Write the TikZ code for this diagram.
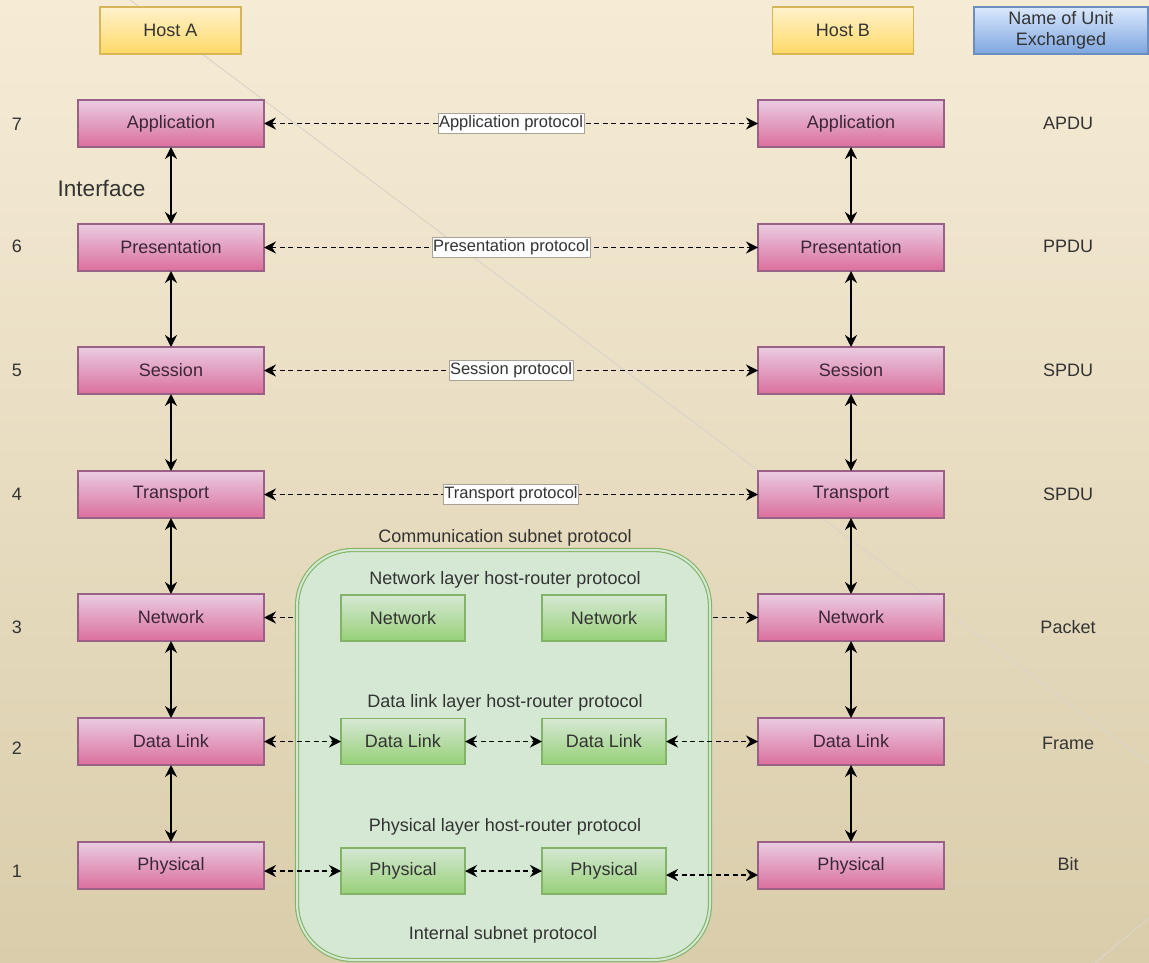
\documentclass[tikz,border=0pt]{standalone}
\usepackage{fontspec}
\setmainfont{Liberation Sans}
\usetikzlibrary{arrows.meta}

\definecolor{bgtop}{HTML}{F6ECD6}
\definecolor{bgmid}{HTML}{F0E6CD}
\definecolor{bgbot}{HTML}{D9CDAB}
\definecolor{bgline}{HTML}{DCD5CA}
\definecolor{pinktop}{HTML}{EACCE1}
\definecolor{pinkbot}{HTML}{DB6F9D}
\definecolor{pinkline}{HTML}{996185}
\definecolor{yeltop}{HTML}{FFF2CC}
\definecolor{yelbot}{HTML}{FFD966}
\definecolor{yelline}{HTML}{D6B656}
\definecolor{bluetop}{HTML}{DAE8FC}
\definecolor{bluebot}{HTML}{7EA6E0}
\definecolor{blueline}{HTML}{6C8EBF}
\definecolor{grntop}{HTML}{D5E8D4}
\definecolor{grnbot}{HTML}{97D077}
\definecolor{grnline}{HTML}{82B366}
\definecolor{subfill}{HTML}{D5E8D4}
\definecolor{txt}{HTML}{333333}
\definecolor{layertxt}{HTML}{3A2636}
\definecolor{lblline}{HTML}{A8A298}

\tikzset{
  basebox/.style={rectangle, inner sep=0pt, outer sep=0pt, line width=1.3pt,
    font=\fontsize{18}{21}\selectfont, text=txt},
  layerbox/.style={basebox, minimum width=186pt, minimum height=47pt,
    top color=pinktop, bottom color=pinkbot, draw=pinkline, text=layertxt},
  hostbox/.style={basebox, minimum width=141pt, minimum height=47pt,
    top color=yeltop, bottom color=yelbot, draw=yelline},
  unitbox/.style={basebox, minimum width=174pt, minimum height=47pt,
    top color=bluetop, bottom color=bluebot, draw=blueline, align=center},
  routerbox/.style={basebox, minimum width=124pt, minimum height=46pt,
    top color=grntop, bottom color=grnbot, draw=grnline},
  subnetbox/.style={rectangle, inner sep=0pt, outer sep=0pt, rounded corners=56pt,
    fill=subfill, draw=grnline, line width=1.1pt, double=subfill, double distance=2pt},
  plainlabel/.style={inner sep=0pt, text=txt, font=\fontsize{18}{21}\selectfont},
  plabel/.style={solid, fill=white, draw=lblline, line width=0.8pt, inner xsep=1pt,
    inner ysep=0pt, minimum height=20pt, text=txt, font=\fontsize{16.5}{18}\selectfont},
  headtip/.tip={Stealth[length=12pt, width=12pt, inset=4pt]},
  solidarr/.style={line width=1.8pt, black, headtip-headtip},
  dasharr/.style={line width=1.7pt, black, dash pattern=on 5pt off 3.5pt, headtip-headtip},
}

\begin{document}
\begin{tikzpicture}[x=1pt, y=-1pt]
  % slide background
  \useasboundingbox (0,0) rectangle (1149,963);
  \shade[top color=bgtop, middle color=bgmid, bottom color=bgbot] (0,0) rectangle (1149,963);
  \draw[bgline, line width=1.1pt] (130,0) -- (1149,763);
  \draw[bgline, line width=1.1pt] (1149,918) -- (1095,963);

  % column headers
  \node[hostbox] (hostA) at (170.5,30.5) {Host A};
  \node[hostbox] (hostB) at (843,30.5) {Host B};
  \node[unitbox] (unit) at (1061,30.5) {Name of Unit\\Exchanged};

  % layer stacks of both hosts
  \foreach \n/\name/\y in {7/Application/123.5, 6/Presentation/247.5, 5/Session/370.5,
                           4/Transport/494.5, 3/Network/617.5, 2/Data Link/741.5, 1/Physical/865.5} {
    \node[layerbox] (a\n) at (171,\y) {\name};
    \node[layerbox] (b\n) at (851,\y) {\name};
  }

  % layer numbers
  \foreach \n/\y in {7/124, 6/246, 5/370, 4/494, 3/627, 2/748, 1/871}
    \node[plainlabel] (num\n) at (17,\y) {\n};

  % protocol data unit names
  \node[plainlabel] (u7) at (1068,123) {APDU};
  \node[plainlabel] (u6) at (1068,246) {PPDU};
  \node[plainlabel] (u5) at (1068,370) {SPDU};
  \node[plainlabel] (u4) at (1068,494) {SPDU};
  \node[plainlabel] (u3) at (1068,627) {Packet};
  \node[plainlabel] (u2) at (1068,743) {Frame};
  \node[plainlabel] (u1) at (1068,864) {Bit};

  \node[plainlabel, font=\fontsize{22.5}{26}\selectfont] (iface) at (101.5,188) {Interface};

  % interfaces between adjacent layers
  \foreach \u/\l in {7/6, 6/5, 5/4, 4/3, 3/2, 2/1} {
    \draw[solidarr] (a\u) -- (a\l);
    \draw[solidarr] (b\u) -- (b\l);
  }

  % peer protocols of the upper layers
  \draw[dasharr] (a7) -- node[plabel] (l7) {Application protocol} (b7);
  \draw[dasharr] (a6) -- node[plabel] (l6) {Presentation protocol} (b6);
  \draw[dasharr] (a5) -- node[plabel] (l5) {Session protocol} (b5);
  \draw[dasharr] (a4) -- node[plabel] (l4) {Transport protocol} (b4);
  \draw[dasharr] (a3) -- (b3);

  % communication subnet
  \node[subnetbox, minimum width=413pt, minimum height=410pt] (subnet) at (503.5,755) {};
  \node[plainlabel] (commlbl) at (505,538) {Communication subnet protocol};
  \node[plainlabel] (netlbl) at (505,580) {Network layer host-router protocol};
  \node[plainlabel] (dllbl) at (505,703) {Data link layer host-router protocol};
  \node[plainlabel] (phylbl) at (505,827) {Physical layer host-router protocol};
  \node[plainlabel] (intlbl) at (503,935) {Internal subnet protocol};

  \node[routerbox] (rn1) at (403,618) {Network};
  \node[routerbox] (rn2) at (604,618) {Network};
  \node[routerbox] (rd1) at (403,741.5) {Data Link};
  \node[routerbox] (rd2) at (604,741.5) {Data Link};
  \node[routerbox] (rp1) at (403,871) {Physical};
  \node[routerbox] (rp2) at (604,871) {Physical};

  % hops through the subnet
  \draw[dasharr] (a2) -- (rd1);
  \draw[dasharr] (rd1) -- (rd2);
  \draw[dasharr] (rd2) -- (b2);
  \draw[dasharr] (rp1.west -| a1.east) -- (rp1.west);
  \draw[dasharr] (rp1) -- (rp2);
  \draw[dasharr] ([yshift=-4pt]rp2.east) -- ([yshift=-4pt]rp2.east -| b1.west);
\end{tikzpicture}
\end{document}
